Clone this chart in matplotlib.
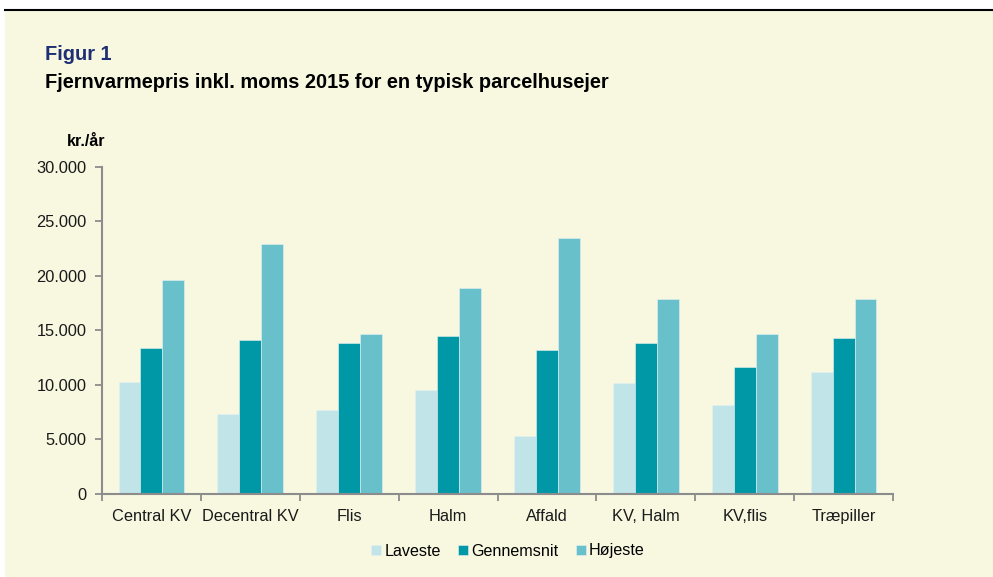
import numpy as np
import matplotlib
matplotlib.use("Agg")
import matplotlib.pyplot as plt
from matplotlib.patches import Rectangle
from matplotlib.ticker import FuncFormatter, FixedLocator

plt.rcParams['font.family'] = ['Liberation Sans', 'DejaVu Sans']

categories = ["Central KV", "Decentral KV", "Flis", "Halm", "Affald", "KV, Halm", "KV,flis", "Træpiller"]
laveste = [10250, 7300, 7700, 9500, 5350, 10150, 8200, 11150]
gennemsnit = [13400, 14100, 13800, 14450, 13200, 13800, 11600, 14300]
hoejeste = [19650, 22900, 14700, 18850, 23450, 17900, 14700, 17850]
series_names = ["Laveste", "Gennemsnit", "Højeste"]
colors = ["#C1E4E8", "#0098A6", "#68C0CA"]

bg = "#F8F8E1"
axis_col = "#8C8C8C"

fig = plt.figure(figsize=(9.93, 5.77), dpi=100)
fig.patch.set_facecolor("white")
fig.patches.append(Rectangle((5 / 993, 0), 1, 1 - 10 / 577, transform=fig.transFigure,
                             facecolor=bg, edgecolor="none", zorder=-10))
fig.lines.append(plt.Line2D([5 / 993, 1], [1 - 10 / 577, 1 - 10 / 577], transform=fig.transFigure,
                            color="black", lw=1.5))

ax = fig.add_axes([102 / 993, 1 - 494 / 577, (893 - 102) / 993, (494 - 166.7) / 577])
ax.set_facecolor(bg)

x = np.arange(len(categories))
w = 0.222
for i, (vals, name) in enumerate(zip([laveste, gennemsnit, hoejeste], series_names)):
    ax.bar(x + (i - 1) * w, vals, width=w, color=colors[i], edgecolor="#E4F2F2",
           linewidth=0.4, label=name, zorder=2)

ax.set_xlim(-0.5, len(categories) - 0.5)
ax.set_ylim(0, 30000)
ax.set_yticks(np.arange(0, 30001, 5000))
ax.yaxis.set_major_formatter(FuncFormatter(lambda v, p: f"{int(v):,}".replace(",", ".")))

ax.set_xticks(x)
ax.set_xticklabels(categories)
ax.xaxis.set_minor_locator(FixedLocator(np.arange(-0.5, len(categories), 1.0)))
ax.tick_params(axis="x", which="major", length=0, pad=11, labelsize=11.8, labelcolor="#1a1a1a")
ax.tick_params(axis="x", which="minor", length=5, width=1.3, color=axis_col)
ax.tick_params(axis="y", length=5, width=1.3, color=axis_col, labelsize=11.8, labelcolor="#1a1a1a", pad=6)

for s in ["top", "right"]:
    ax.spines[s].set_visible(False)
for s in ["left", "bottom"]:
    ax.spines[s].set_color(axis_col)
    ax.spines[s].set_linewidth(1.5)

fig.text(45 / 993, 1 - 60 / 577, "Figur 1", fontsize=14.4, fontweight="bold", color="#1E2F73")
fig.text(45 / 993, 1 - 88 / 577, "Fjernvarmepris inkl. moms 2015 for en typisk parcelhusejer",
         fontsize=14.4, fontweight="bold", color="black")
fig.text(67 / 993, 1 - 146 / 577, "kr./år", fontsize=11.5, fontweight="bold", color="black")

leg = fig.legend(loc="center", bbox_to_anchor=(508 / 993, 1 - 551 / 577), ncol=3, frameon=False,
                 fontsize=11.6, handlelength=0.6, handleheight=0.6, handletextpad=0.2,
                 columnspacing=1.1)

fig.savefig("out.png", dpi=100, facecolor=fig.get_facecolor())
